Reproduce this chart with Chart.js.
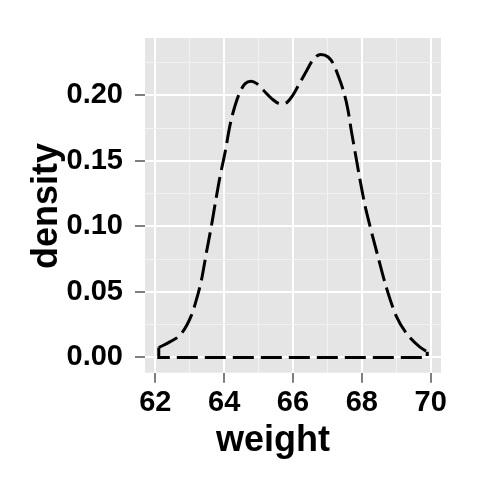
<!DOCTYPE html>
<html>
<head>
<meta charset="utf-8">
<style>
  html, body { margin: 0; padding: 0; background: #ffffff; }
  #wrap { width: 480px; height: 480px; }
</style>
<script src="https://cdn.jsdelivr.net/npm/chart.js@4.4.1/dist/chart.umd.min.js"></script>
</head>
<body>
<div id="wrap"><canvas id="c" width="480" height="480"></canvas></div>
<script>
// ---- data ----
const weightX = [62.10, 62.42, 62.76, 63.05, 63.19, 63.34, 63.48, 63.62, 63.75, 63.88, 64.03, 64.17, 64.32, 64.46, 64.61, 64.78, 64.95, 65.14, 65.38, 65.62, 65.75, 65.96, 66.16, 66.40, 66.59, 66.81, 67.02, 67.17, 67.31, 67.46, 67.59, 67.70, 67.82, 67.94, 68.09, 68.23, 68.47, 68.72, 69.01, 69.34, 69.68, 69.90];
const densityY = [0.0076, 0.0119, 0.0183, 0.0323, 0.0437, 0.0590, 0.0794, 0.0990, 0.1190, 0.1380, 0.1569, 0.1772, 0.1924, 0.2025, 0.2089, 0.2107, 0.2089, 0.2038, 0.1975, 0.1937, 0.1937, 0.1987, 0.2076, 0.2190, 0.2274, 0.2312, 0.2292, 0.2241, 0.2152, 0.2038, 0.1898, 0.1721, 0.1543, 0.1365, 0.1162, 0.1010, 0.0768, 0.0527, 0.0310, 0.0170, 0.0081, 0.0043];
const xMajorTicks = [62, 64, 66, 68, 70];
const xMinorTicks = [63, 65, 67, 69];
const yMajorTicks = [0.00, 0.05, 0.10, 0.15, 0.20];
const yMinorTicks = [0.025, 0.075, 0.125, 0.175, 0.225];
const xTitle = 'weight';
const yTitle = 'density';

const curve = weightX.map((x, i) => ({ x: x, y: densityY[i] }));
const last = weightX.length - 1;
// outline of the density polygon: ends and baseline
const outline = [
  { x: weightX[0], y: densityY[0] },
  { x: weightX[0], y: 0 },
  { x: weightX[last], y: 0 },
  { x: weightX[last], y: densityY[last] }
];

const FONT = '"Liberation Sans", Arial, Helvetica, sans-serif';

const panelBg = {
  id: 'panelBg',
  beforeDraw(chart) {
    const a = chart.chartArea, ctx = chart.ctx;
    ctx.save();
    ctx.fillStyle = '#E5E5E5';
    ctx.fillRect(a.left, a.top, a.right - a.left, a.bottom - a.top);
    ctx.restore();
  }
};

const axisTitles = {
  id: 'axisTitles',
  afterDraw(chart) {
    const ctx = chart.ctx;
    ctx.save();
    ctx.fillStyle = '#000000';
    ctx.font = 'bold 36px ' + FONT;
    ctx.textAlign = 'center';
    ctx.textBaseline = 'alphabetic';
    ctx.fillText(xTitle, 273, 450.5);
    ctx.translate(56.5, 206);
    ctx.rotate(-Math.PI / 2);
    ctx.fillText(yTitle, 0, 0);
    ctx.restore();
  }
};

function isIn(arr, v) { return arr.some(a => Math.abs(a - v) < 1e-9); }

const gridOpts = (majors) => ({
  color: (c) => (c.tick && isIn(majors, c.tick.value)) ? '#FFFFFF' : '#F2F2F2',
  lineWidth: (c) => (c.tick && isIn(majors, c.tick.value)) ? 2 : 1,
  tickColor: (c) => (c.tick && isIn(majors, c.tick.value)) ? '#7F7F7F' : 'rgba(0,0,0,0)',
  tickWidth: 2,
  tickLength: 10,
  drawTicks: true,
  drawOnChartArea: true
});

new Chart(document.getElementById('c'), {
  type: 'scatter',
  data: {
    datasets: [
      {
        data: curve,
        showLine: true,
        borderColor: '#000000',
        borderWidth: 3,
        borderDash: [21, 7],
        borderCapStyle: 'butt',
        cubicInterpolationMode: 'monotone',
        pointRadius: 0,
        fill: false
      },
      {
        data: outline,
        showLine: true,
        borderColor: '#000000',
        borderWidth: 3,
        borderDash: [21, 7],
        borderDashOffset: 0,
        borderCapStyle: 'butt',
        tension: 0,
        pointRadius: 0,
        fill: false
      }
    ]
  },
  options: {
    responsive: false,
    animation: false,
    devicePixelRatio: 1,
    layout: { padding: { left: 0, top: 38, right: 39, bottom: 0 } },
    plugins: { legend: { display: false }, tooltip: { enabled: false }, title: { display: false } },
    scales: {
      x: {
        type: 'linear',
        min: 61.7,
        max: 70.3,
        afterBuildTicks: (s) => { s.ticks = xMajorTicks.concat(xMinorTicks).sort((a, b) => a - b).map(v => ({ value: v })); },
        afterFit: (s) => { s.height = 480 - 372.7; },
        grid: gridOpts(xMajorTicks),
        border: { display: false },
        ticks: {
          autoSkip: false,
          maxRotation: 0,
          padding: 3,
          color: '#000000',
          font: { family: FONT, size: 29, weight: 'bold' },
          callback: (v) => isIn(xMajorTicks, v) ? String(Math.round(v)) : ''
        },
        title: { display: false }
      },
      y: {
        type: 'linear',
        min: -0.0116,
        max: 0.2437,
        afterBuildTicks: (s) => { s.ticks = yMajorTicks.concat(yMinorTicks).sort((a, b) => a - b).map(v => ({ value: v })); },
        afterFit: (s) => { s.width = 145; },
        grid: gridOpts(yMajorTicks),
        border: { display: false },
        ticks: {
          autoSkip: false,
          padding: 12,
          color: '#000000',
          font: { family: FONT, size: 29, weight: 'bold' },
          callback: (v) => isIn(yMajorTicks, v) ? v.toFixed(2) : ''
        },
        title: { display: false }
      }
    }
  },
  plugins: [panelBg, axisTitles]
});
</script>
</body>
</html>
